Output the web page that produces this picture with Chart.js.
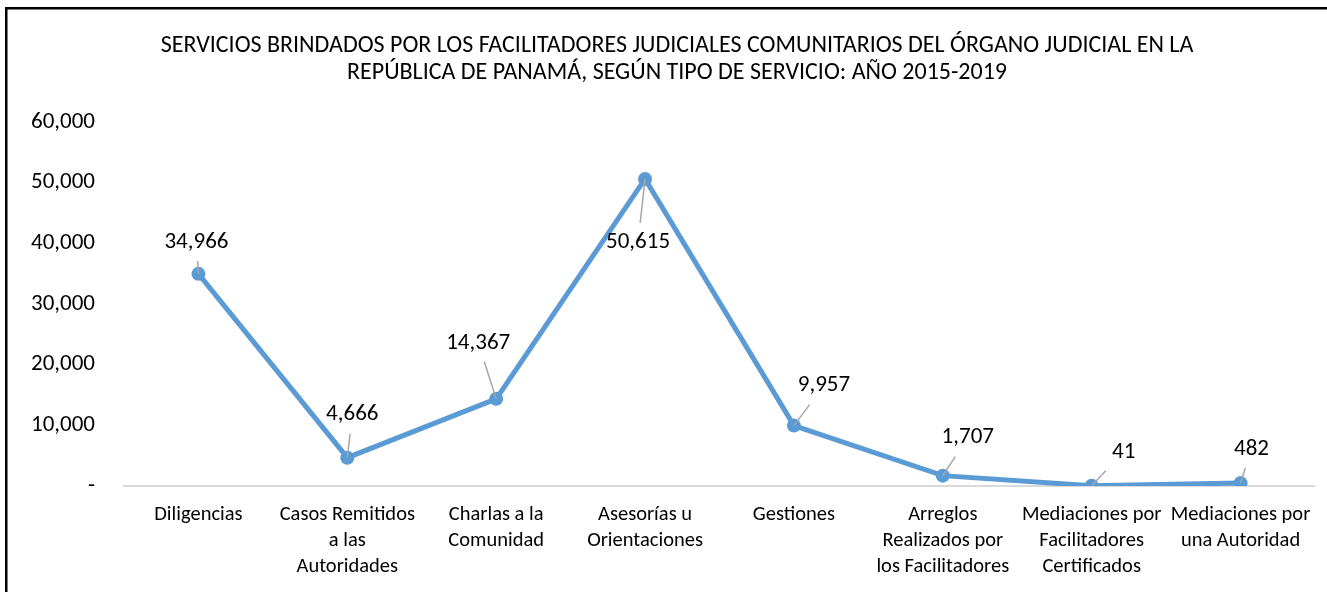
<!DOCTYPE html>
<html>
<head>
<meta charset="utf-8">
<script src="https://cdn.jsdelivr.net/npm/chart.js@4"></script>
<style>
  html, body { margin: 0; padding: 0; background: #ffffff; }
  canvas { display: block; }
</style>
</head>
<body>
<canvas id="c" width="1327" height="592"></canvas>
<script>
// ---- Data ----
const titleLines = [
  "SERVICIOS BRINDADOS POR LOS FACILITADORES JUDICIALES COMUNITARIOS DEL ÓRGANO JUDICIAL EN LA",
  "REPÚBLICA DE PANAMÁ, SEGÚN TIPO DE SERVICIO: AÑO 2015-2019"
];
const categories = [
  ["Diligencias"],
  ["Casos Remitidos", "a las", "Autoridades"],
  ["Charlas a la", "Comunidad"],
  ["Asesorías u", "Orientaciones"],
  ["Gestiones"],
  ["Arreglos", "Realizados por", "los Facilitadores"],
  ["Mediaciones por", "Facilitadores", "Certificados"],
  ["Mediaciones por", "una Autoridad"]
];
const values = [34966, 4666, 14367, 50615, 9957, 1707, 41, 482];
const yMin = 0, yMax = 60000, yStep = 10000;

// label placement offsets (styling only, pixels relative to each point)
const labelOffsets = [[-2,-32],[5,-43],[-18,-56],[-7,63],[30,-40],[25,-38],[32,-34],[11,-34]];

const FONT = "Carlito, Calibri, Lato, 'Liberation Sans', sans-serif";

const fmt = v => v === 0 ? "-" : v.toLocaleString("en-US");

const framePlugin = {
  id: "frame",
  beforeDraw(chart) {
    const ctx = chart.ctx;
    ctx.save();
    ctx.fillStyle = "#ffffff";
    ctx.fillRect(0, 0, chart.width, chart.height);
    ctx.fillStyle = "#000000";
    ctx.fillRect(5, 7, 2.5, chart.height - 7);
    ctx.fillRect(5, 7, chart.width - 5, 2.5);
    // title
    ctx.font = "24px " + FONT;
    ctx.textAlign = "center";
    ctx.textBaseline = "middle";
    titleLines.forEach((t, i) => ctx.fillText(t, 677, 46 + i * 27));
    ctx.restore();
  }
};

const labelPlugin = {
  id: "dataLabels",
  afterDatasetsDraw(chart) {
    const ctx = chart.ctx;
    const meta = chart.getDatasetMeta(0);
    ctx.save();
    ctx.font = "23px " + FONT;
    ctx.textAlign = "center";
    ctx.textBaseline = "middle";
    meta.data.forEach((pt, i) => {
      const [dx, dy] = labelOffsets[i];
      const lx = pt.x + dx, ly = pt.y + dy;
      const halfH = 9, gap = 10;
      const t = Math.max(0, 1 - (halfH + gap) / Math.abs(dy));
      ctx.strokeStyle = "#A6A6A6";
      ctx.lineWidth = 1.5;
      ctx.beginPath();
      ctx.moveTo(pt.x, pt.y);
      ctx.lineTo(pt.x + dx * t, pt.y + dy * t);
      ctx.stroke();
      ctx.fillStyle = "#000000";
      ctx.fillText(fmt(values[i]), lx, ly);
    });
    ctx.restore();
  }
};

new Chart(document.getElementById("c"), {
  type: "line",
  data: {
    labels: categories,
    datasets: [{
      data: values,
      borderColor: "#5B9BD5",
      backgroundColor: "#5B9BD5",
      borderWidth: 5,
      pointRadius: 7,
      pointBorderWidth: 0,
      pointBackgroundColor: "#5B9BD5",
      tension: 0,
      fill: false
    }]
  },
  options: {
    responsive: false,
    animation: false,
    devicePixelRatio: 1,
    layout: { padding: { left: 0, right: 11, top: 122, bottom: 0 } },
    plugins: {
      legend: { display: false },
      tooltip: { enabled: false },
      title: { display: false }
    },
    scales: {
      x: {
        offset: true,
        grid: { display: false, drawTicks: false, offset: true },
        border: { display: true, color: "#D9D9D9", width: 2 },
        ticks: {
          color: "#000000",
          font: { family: FONT, size: 20.5, lineHeight: 1.27 },
          padding: 16,
          maxRotation: 0,
          autoSkip: false
        },
        afterFit(scale) { scale.height = 106; }
      },
      y: {
        min: yMin, max: yMax,
        grid: { display: false, drawTicks: false },
        border: { display: false },
        ticks: {
          stepSize: yStep,
          color: "#000000",
          font: { family: FONT, size: 23 },
          padding: 29,
          callback: v => fmt(v)
        },
        afterFit(scale) { scale.width = 124; }
      }
    }
  },
  plugins: [framePlugin, labelPlugin]
});
</script>
</body>
</html>
